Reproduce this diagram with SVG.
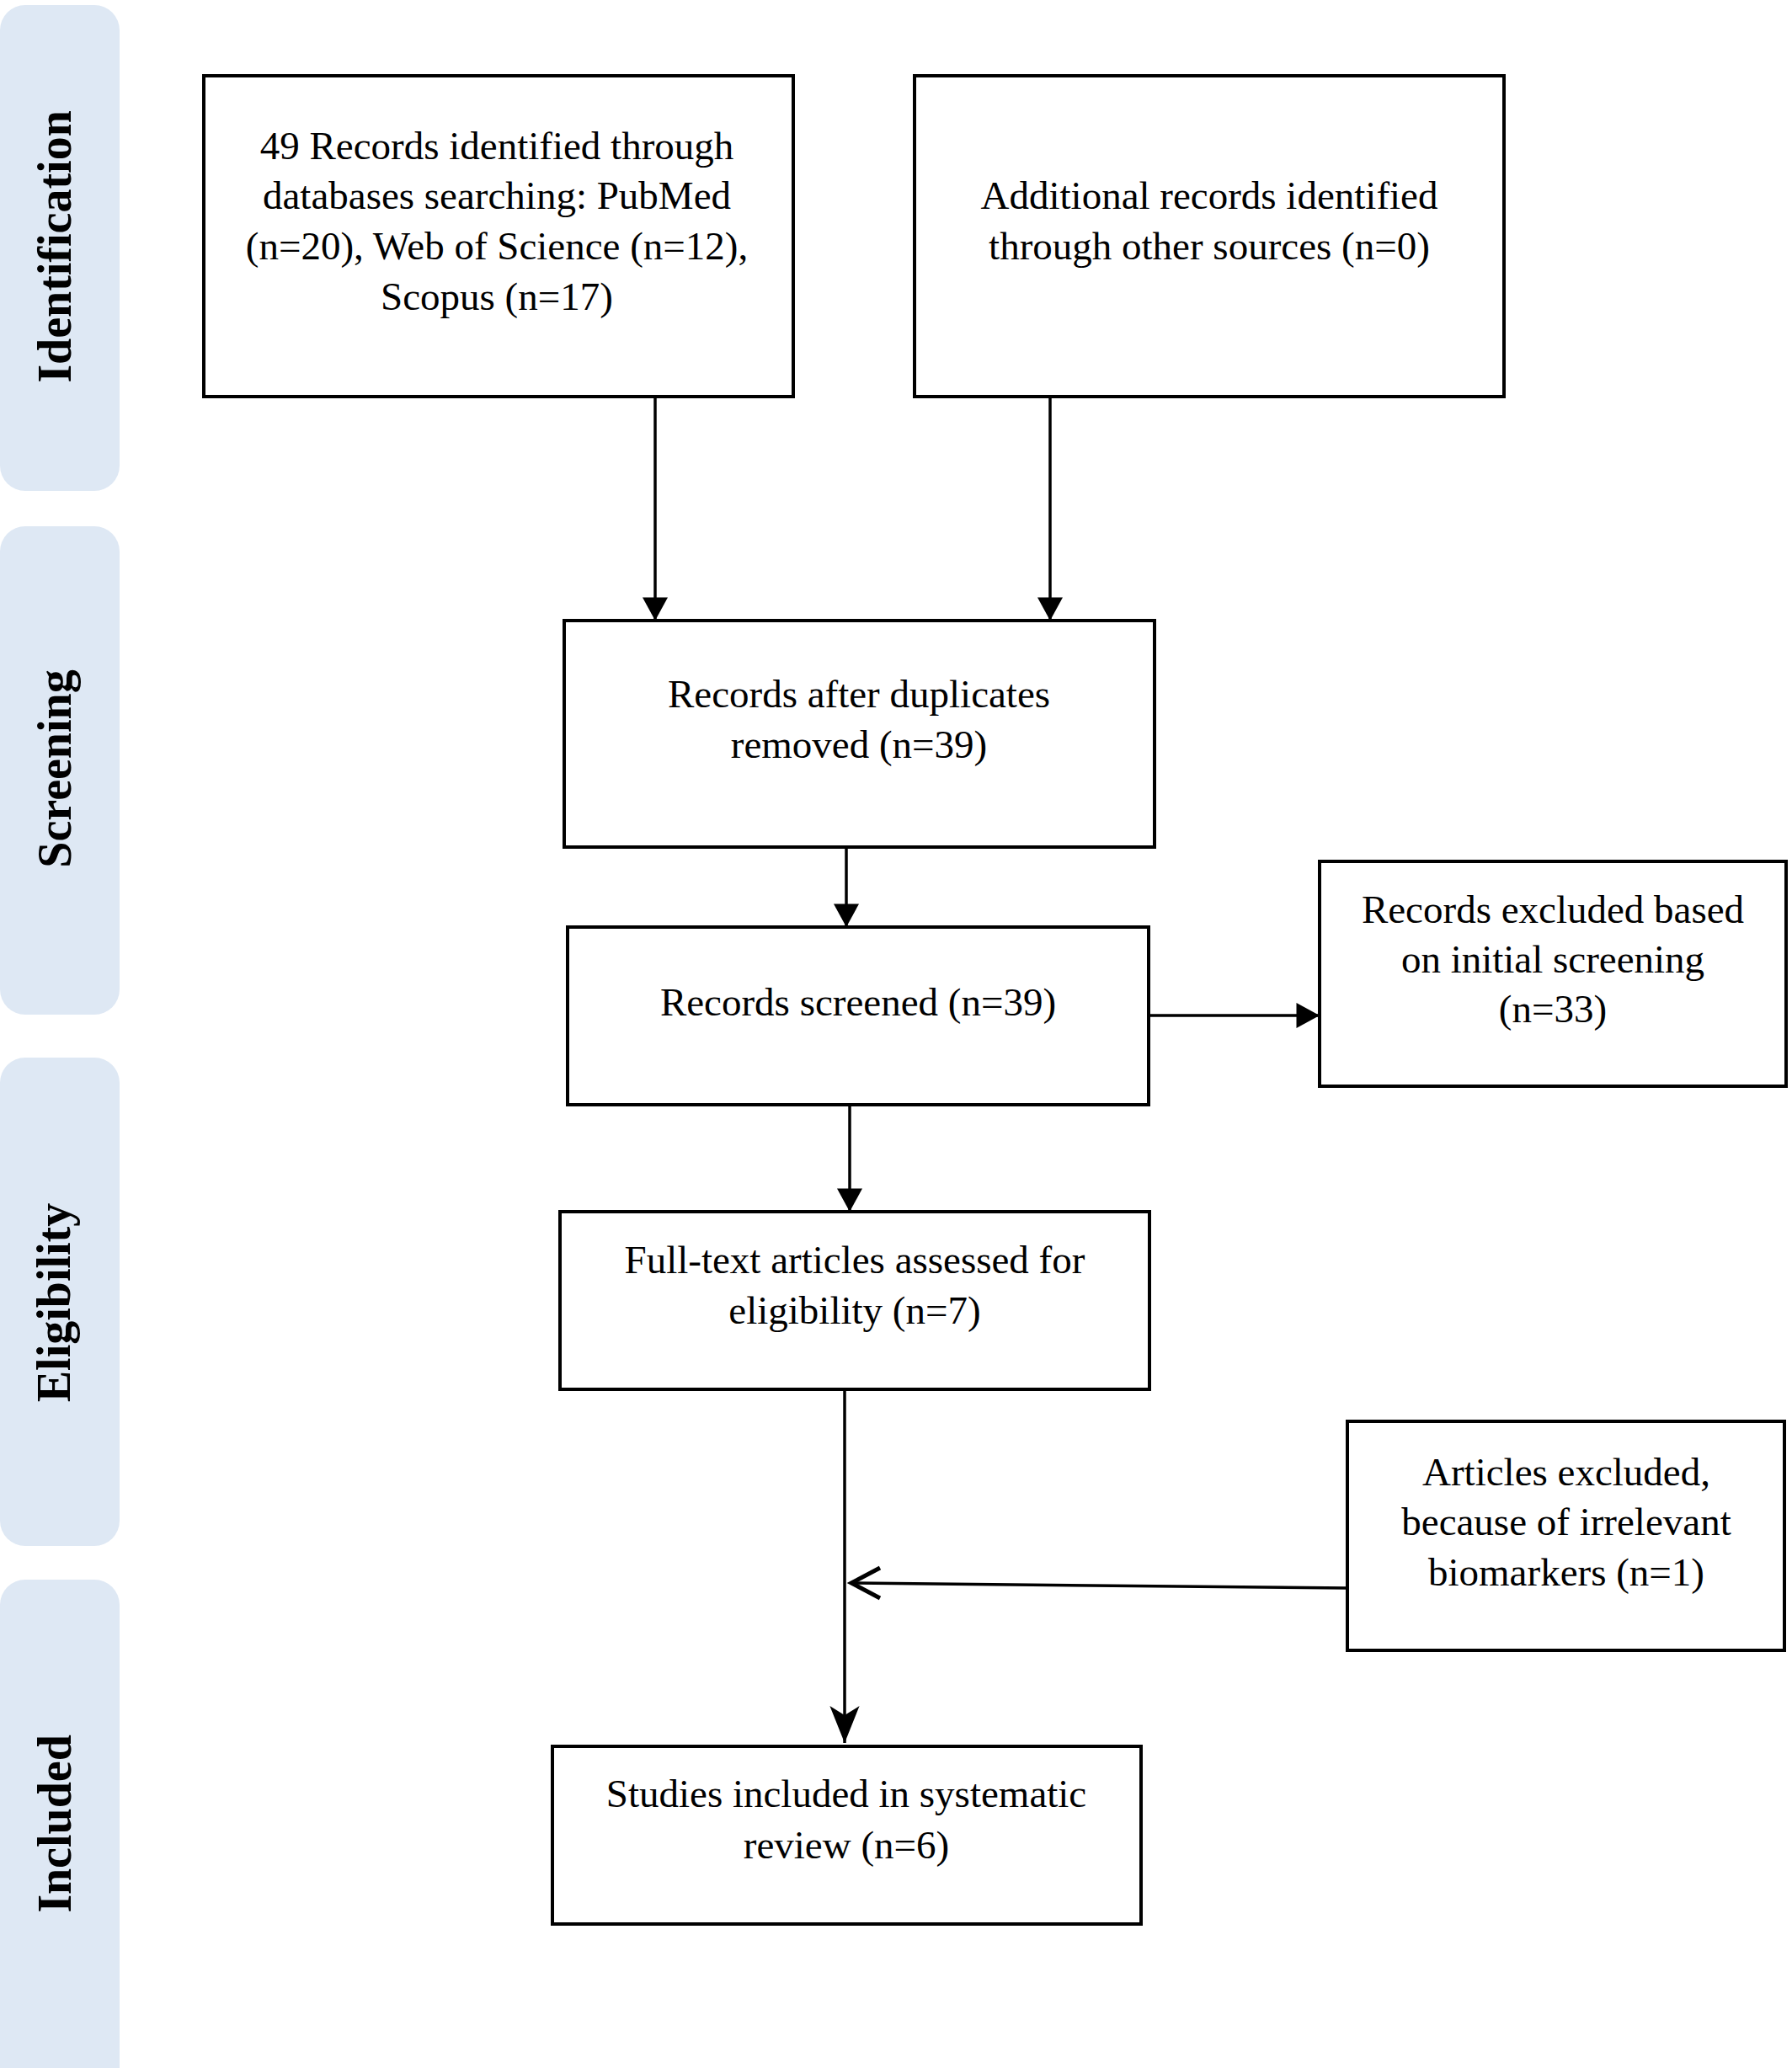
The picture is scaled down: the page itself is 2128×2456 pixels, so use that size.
<svg xmlns="http://www.w3.org/2000/svg" width="2128" height="2456" viewBox="0 0 2128 2456">
<style>
.bar{fill:#DEE8F4;stroke:none}
.lab{font-family:"Liberation Serif","Times New Roman",serif;font-weight:bold;font-size:56px;fill:#000;text-anchor:middle}
.box{fill:#fff;stroke:#000;stroke-width:4}
.t{font-family:"Liberation Serif","Times New Roman",serif;font-size:47px;fill:#000;text-anchor:middle}
.ln{fill:none;stroke:#000;stroke-width:3.5}
</style>
<defs>
<marker id="tri" markerUnits="userSpaceOnUse" markerWidth="30" markerHeight="30" viewBox="0 0 22 24" refX="22" refY="12" orient="auto">
<path d="M0,0 L22,12 L0,24 Z" fill="#000"/>
</marker>
<marker id="stealth" markerUnits="userSpaceOnUse" markerWidth="44" markerHeight="40" viewBox="0 0 40 32" refX="40" refY="16" orient="auto">
<path d="M0,0 L40,16 L0,32 L10,16 Z" fill="#000"/>
</marker>
</defs>
<rect width="2128" height="2456" fill="#fff"/>
<g id="phase-identification"><rect class="bar" x="0" y="6" width="142" height="577" rx="30"/><text class="lab" transform="translate(84,293) rotate(-90)">Identification</text></g>
<g id="phase-screening"><rect class="bar" x="0" y="625" width="142" height="580" rx="30"/><text class="lab" transform="translate(84,913) rotate(-90)">Screening</text></g>
<g id="phase-eligibility"><rect class="bar" x="0" y="1256" width="142" height="580" rx="30"/><text class="lab" transform="translate(83,1547) rotate(-90)">Eligibility</text></g>
<g id="phase-included"><rect class="bar" x="0" y="1876" width="142" height="620" rx="30"/><text class="lab" transform="translate(84,2166) rotate(-90)">Included</text></g>
<g id="connectors">
<line class="ln" x1="778" y1="471" x2="778" y2="737" marker-end="url(#tri)"/>
<line class="ln" x1="1247" y1="471" x2="1247" y2="737" marker-end="url(#tri)"/>
<line class="ln" x1="1005" y1="1006" x2="1005" y2="1101" marker-end="url(#tri)"/>
<line class="ln" x1="1364" y1="1206" x2="1567" y2="1206" marker-end="url(#tri)"/>
<line class="ln" x1="1009" y1="1312" x2="1009" y2="1439" marker-end="url(#tri)"/>
<line class="ln" x1="1003" y1="1650" x2="1003" y2="2070" marker-end="url(#stealth)"/>
<line class="ln" x1="1600" y1="1886" x2="1011" y2="1880"/>
<path d="M1045,1862 L1011,1880 L1045,1898" fill="none" stroke="#000" stroke-width="5" stroke-linejoin="miter"/>
</g>
<g id="n1"><rect class="box" x="242" y="90" width="700" height="381"/>
<text class="t" x="590" y="189">49 Records identified through</text>
<text class="t" x="590" y="248">databases searching: PubMed</text>
<text class="t" x="590" y="308">(n=20), Web of Science (n=12),</text>
<text class="t" x="590" y="368">Scopus (n=17)</text></g>
<g id="n2"><rect class="box" x="1086" y="90" width="700" height="381"/>
<text class="t" x="1436" y="248">Additional records identified</text>
<text class="t" x="1436" y="308">through other sources (n=0)</text></g>
<g id="n3"><rect class="box" x="670" y="737" width="701" height="269"/>
<text class="t" x="1020" y="840">Records after duplicates</text>
<text class="t" x="1020" y="900">removed (n=39)</text></g>
<g id="n4"><rect class="box" x="674" y="1101" width="690" height="211"/>
<text class="t" x="1019" y="1206">Records screened (n=39)</text></g>
<g id="n5"><rect class="box" x="1567" y="1023" width="554" height="267"/>
<text class="t" x="1844" y="1096">Records excluded based</text>
<text class="t" x="1844" y="1155">on initial screening</text>
<text class="t" x="1844" y="1214">(n=33)</text></g>
<g id="n6"><rect class="box" x="665" y="1439" width="700" height="211"/>
<text class="t" x="1015" y="1512">Full-text articles assessed for</text>
<text class="t" x="1015" y="1572">eligibility (n=7)</text></g>
<g id="n7"><rect class="box" x="1600" y="1688" width="519" height="272"/>
<text class="t" x="1860" y="1764">Articles excluded,</text>
<text class="t" x="1860" y="1823">because of irrelevant</text>
<text class="t" x="1860" y="1883">biomarkers (n=1)</text></g>
<g id="n8"><rect class="box" x="656" y="2074" width="699" height="211"/>
<text class="t" x="1005" y="2146">Studies included in systematic</text>
<text class="t" x="1005" y="2207">review (n=6)</text></g>
</svg>
